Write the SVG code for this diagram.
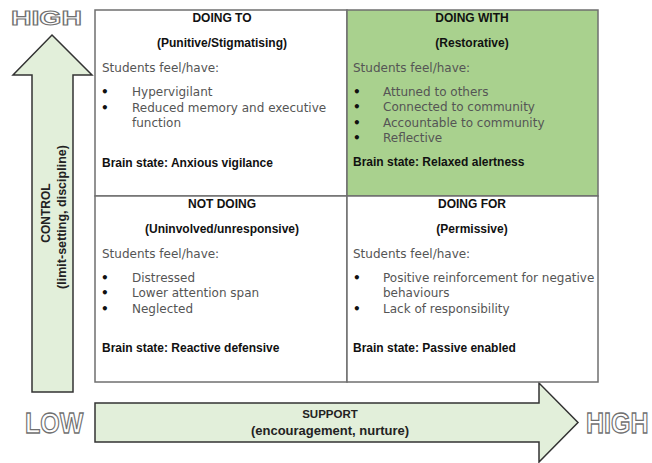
<svg xmlns="http://www.w3.org/2000/svg" width="652" height="463" viewBox="0 0 652 463">
<style>
.arrow{fill:#E2EFDA;stroke:#333333;stroke-width:1.5;stroke-linejoin:miter}
.cell{fill:#ffffff;stroke:#6f6f6f;stroke-width:1.5}
.green{fill:#A9D18E}
.h{font-family:"Liberation Sans",Arial,sans-serif;font-weight:bold;font-size:12px;fill:#111;text-anchor:middle}
.b{font-family:"Liberation Sans",Arial,sans-serif;font-weight:bold;font-size:12px;fill:#111}
.t{font-family:"DejaVu Sans",sans-serif;font-size:12px;fill:#555}
.bul{font-family:"DejaVu Sans",sans-serif;font-size:12px;font-weight:bold;fill:#111}
.ax{font-family:"Liberation Sans",Arial,sans-serif;font-weight:bold;fill:#222;text-anchor:middle}
.out{font-family:"Liberation Sans",Arial,sans-serif;font-weight:bold;fill:#ffffff;stroke:#707070;stroke-width:1.1}
</style>
<g id="control-arrow">
<polygon class="arrow" points="52,35 92,75 73,75 73,392 32,392 32,75 13,75"/>
<text class="ax" font-size="12" transform="translate(50,213) rotate(-90)">CONTROL</text>
<text class="ax" font-size="12.5" transform="translate(66,217) rotate(-90)">(limit-setting, discipline)</text>
</g>
<g id="support-arrow">
<polygon class="arrow" points="95,403 539,403 539,383 578,422.5 539,462 539,442 95,442"/>
<text class="ax" font-size="11.5" x="330" y="418">SUPPORT</text>
<text class="ax" font-size="13" x="330" y="435">(encouragement, nurture)</text>
</g>
<g id="labels">
<text class="out" font-size="21" transform="translate(11,25) scale(1.35,1)">HIGH</text>
<text class="out" font-size="25" transform="translate(25,433) scale(1,1.17)">LOW</text>
<text class="out" font-size="25" transform="translate(586,433) scale(1,1.17)">HIGH</text>
</g>
<g id="doing-to">
<rect class="cell" x="95" y="10" width="252" height="186"/>
<text class="h" x="222" y="22">DOING TO</text>
<text class="h" x="222" y="47">(Punitive/Stigmatising)</text>
<text class="t" x="102" y="72">Students feel/have:</text>
<text class="bul" x="101" y="96">•</text>
<text class="t" x="132" y="96">Hypervigilant</text>
<text class="bul" x="101" y="112">•</text>
<text class="t" x="132" y="112">Reduced memory and executive</text>
<text class="t" x="132" y="127">function</text>
<text class="b" x="102" y="167">Brain state: Anxious vigilance</text>
</g>
<g id="doing-with">
<rect class="cell green" x="347" y="10" width="251" height="186"/>
<text class="h" x="472" y="22">DOING WITH</text>
<text class="h" x="472" y="47">(Restorative)</text>
<text class="t" x="353" y="72">Students feel/have:</text>
<text class="bul" x="353" y="96">•</text>
<text class="t" x="383" y="96">Attuned to others</text>
<text class="bul" x="353" y="111">•</text>
<text class="t" x="383" y="111">Connected to community</text>
<text class="bul" x="353" y="127">•</text>
<text class="t" x="383" y="127">Accountable to community</text>
<text class="bul" x="353" y="142">•</text>
<text class="t" x="383" y="142">Reflective</text>
<text class="b" x="353" y="166">Brain state: Relaxed alertness</text>
</g>
<g id="not-doing">
<rect class="cell" x="95" y="196" width="252" height="186"/>
<text class="h" x="222" y="208">NOT DOING</text>
<text class="h" x="222" y="233">(Uninvolved/unresponsive)</text>
<text class="t" x="102" y="258">Students feel/have:</text>
<text class="bul" x="101" y="282">•</text>
<text class="t" x="132" y="282">Distressed</text>
<text class="bul" x="101" y="297">•</text>
<text class="t" x="132" y="297">Lower attention span</text>
<text class="bul" x="101" y="313">•</text>
<text class="t" x="132" y="313">Neglected</text>
<text class="b" x="102" y="352">Brain state: Reactive defensive</text>
</g>
<g id="doing-for">
<rect class="cell" x="347" y="196" width="251" height="186"/>
<text class="h" x="472" y="208">DOING FOR</text>
<text class="h" x="472" y="233">(Permissive)</text>
<text class="t" x="353" y="258">Students feel/have:</text>
<text class="bul" x="353" y="282">•</text>
<text class="t" x="383" y="282">Positive reinforcement for negative</text>
<text class="t" x="383" y="297">behaviours</text>
<text class="bul" x="353" y="313">•</text>
<text class="t" x="383" y="313">Lack of responsibility</text>
<text class="b" x="353" y="352">Brain state: Passive enabled</text>
</g>
</svg>
